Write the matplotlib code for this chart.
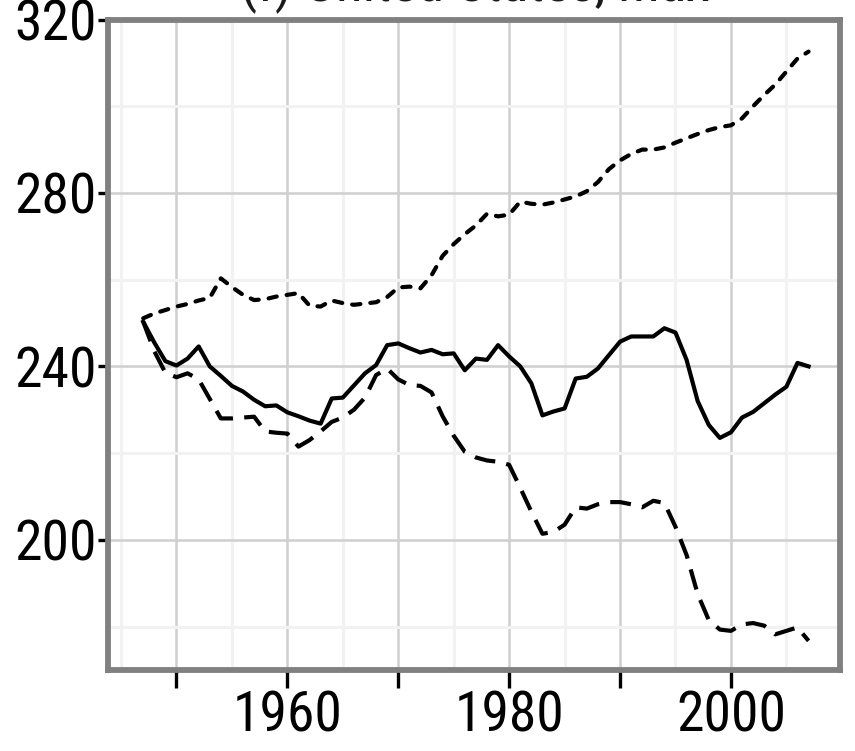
import matplotlib
matplotlib.use("Agg")
import matplotlib.pyplot as plt
from matplotlib import font_manager
from matplotlib.ticker import MultipleLocator, FixedLocator

years = list(range(1947, 2008))

solid = [250.3, 245.5, 241.2, 240.2, 241.8, 244.6, 240.0, 237.8, 235.5, 234.2,
         232.3, 230.8, 231.0, 229.4, 228.5, 227.5, 226.8, 232.6, 232.8, 235.6,
         238.4, 240.3, 244.9, 245.3, 244.2, 243.2, 243.8, 242.8, 243.0, 239.1,
         241.8, 241.5, 244.9, 242.3, 240.0, 236.1, 228.7, 229.6, 230.3, 237.2,
         237.6, 239.5, 242.6, 245.7, 246.9, 246.9, 246.9, 248.8, 247.8, 241.5,
         232.0, 226.5, 223.5, 224.8, 228.2, 229.5, 231.5, 233.5, 235.3, 240.8,
         240.0]

dashed = [250.3, 243.5, 238.5, 237.5, 238.4, 237.0, 232.5, 228.0, 228.0, 228.2,
          228.4, 225.0, 224.7, 224.5, 221.5, 223.0, 225.0, 227.2, 228.2, 230.0,
          232.8, 238.0, 239.5, 237.0, 235.7, 235.5, 234.0, 228.5, 224.0, 220.3,
          219.0, 218.3, 218.0, 217.3, 212.0, 206.5, 201.4, 201.8, 203.5, 207.5,
          207.2, 208.2, 208.7, 208.7, 208.2, 207.5, 209.0, 208.5, 203.0, 196.5,
          187.5, 181.5, 179.3, 179.0, 180.5, 180.8, 180.2, 178.2, 179.0, 179.8,
          176.7]

dotted = [251.1, 252.2, 253.0, 253.8, 254.4, 255.2, 255.8, 260.3, 258.3, 256.5,
          255.3, 255.5, 256.1, 256.5, 256.9, 254.0, 253.8, 255.2, 254.6, 254.2,
          254.5, 254.8, 256.0, 258.2, 258.4, 258.0, 261.0, 265.5, 268.2, 270.5,
          272.5, 275.2, 274.6, 275.0, 278.0, 277.5, 277.3, 277.8, 278.5, 279.2,
          280.4, 282.5, 285.5, 287.5, 289.0, 290.0, 290.0, 290.5, 291.6, 292.6,
          293.6, 294.5, 295.2, 295.6, 297.2, 300.0, 302.6, 305.0, 308.0, 311.0,
          312.6]

x_ticks = [1950, 1960, 1970, 1980, 1990, 2000]
x_tick_labels = ["", "1960", "", "1980", "", "2000"]
y_ticks = [200, 240, 280, 320]
y_tick_labels = ["200", "240", "280", "320"]
title = "(f) United States, max"

names = {f.name for f in font_manager.fontManager.ttflist}
candidates = ["Liberation Sans Narrow", "Arial Narrow", "Roboto Condensed",
              "Archivo Narrow", "PT Sans Narrow", "Open Sans Condensed",
              "Liberation Sans"]
main_font = next((c for c in candidates if c in names), "DejaVu Sans")
plt.rcParams["font.family"] = [main_font, "DejaVu Sans"]

fig = plt.figure(figsize=(8.55, 7.51), dpi=100)
renderer = fig.canvas.get_renderer()


def size_for_width(s, target_px, ref_size=40):
    t = fig.text(0, 0, s, fontsize=ref_size)
    w = t.get_window_extent(renderer=renderer).width
    t.remove()
    return ref_size * target_px / w


tick_size = size_for_width("1960", 110)
title_size = size_for_width(title, 470)

ax = fig.add_axes([0.126, 0.108, 0.856, 0.866])

ax.plot(years, dotted, color="black", lw=3.0, linestyle=(0, (2.0, 2.4)),
        dash_capstyle="round", zorder=3)
ax.plot(years, dashed, color="black", lw=3.0, linestyle=(0, (5.0, 2.7)),
        zorder=3)
ax.plot(years, solid, color="black", lw=3.0, linestyle="-", zorder=4,
        solid_joinstyle="round")

ax.set_xlim(1943.8, 2009.8)
ax.set_ylim(170, 320)

ax.xaxis.set_major_locator(FixedLocator(x_ticks))
ax.set_xticklabels(x_tick_labels)
ax.yaxis.set_major_locator(FixedLocator(y_ticks))
ax.set_yticklabels(y_tick_labels)
ax.xaxis.set_minor_locator(MultipleLocator(5))
ax.yaxis.set_minor_locator(MultipleLocator(20))

ax.grid(True, which="minor", color="#f2f2f2", lw=2.2, zorder=0)
ax.grid(True, which="major", color="#cfcfcf", lw=1.8, zorder=1)
ax.set_axisbelow(True)

for s in ax.spines.values():
    s.set_color("#808080")
    s.set_linewidth(4.2)

ax.tick_params(axis="x", which="major", direction="out", length=13, width=2.4,
               color="black", labelsize=tick_size, pad=1)
ax.tick_params(axis="y", which="major", direction="out", length=7, width=2.4,
               color="black", labelsize=tick_size, pad=1)
ax.tick_params(which="minor", length=0)

fig.text(0.556, 0.999, title, ha="center", va="baseline",
         fontsize=title_size, color="#1a1a1a")

fig.savefig("out.png", dpi=100)
